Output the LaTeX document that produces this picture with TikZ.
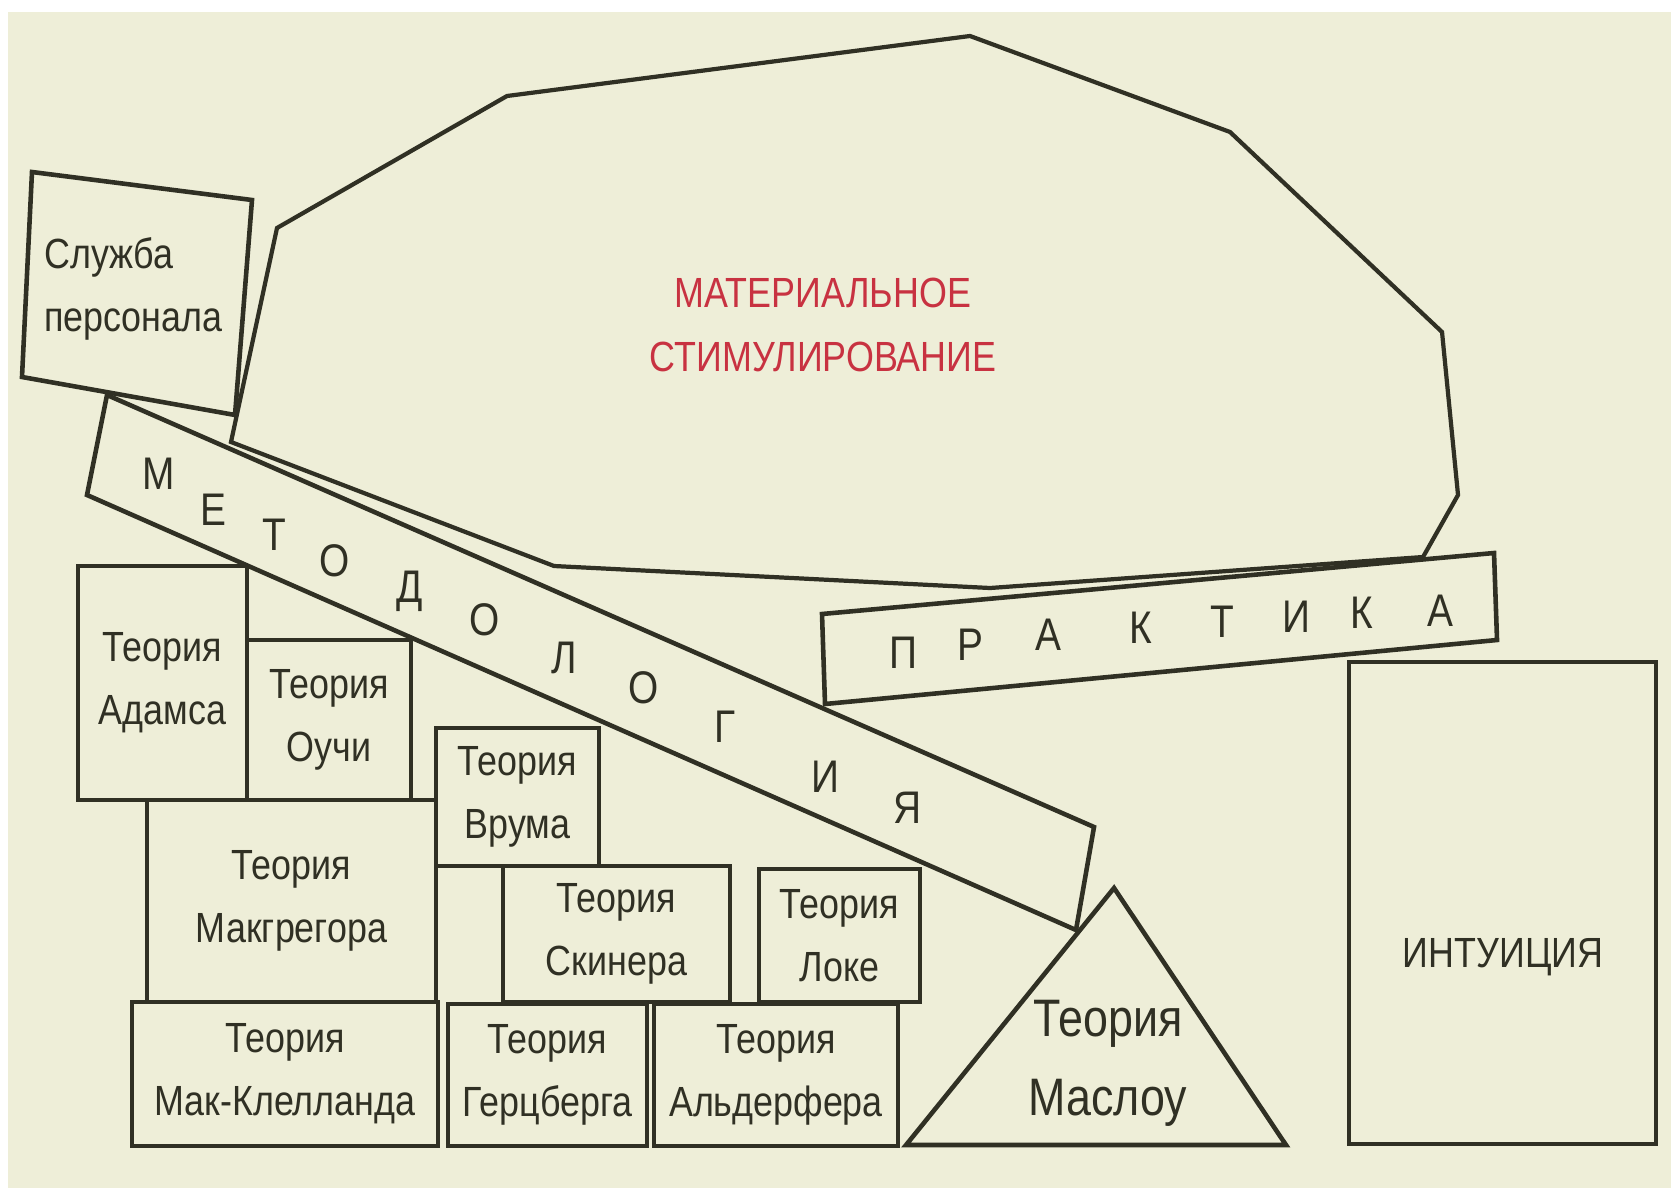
\documentclass[tikz,border=0pt]{standalone}
\usepackage{fontspec}
\setmainfont{Liberation Sans}
\newfontfamily\condfont[FakeStretch=0.85]{Liberation Sans}
\definecolor{bg}{RGB}{238,238,216}
\definecolor{ink}{RGB}{48,48,36}
\definecolor{matred}{RGB}{200,50,65}
\begin{document}
\begin{tikzpicture}[x=0.01cm, y=-0.01cm, color=ink, line width=1.3pt,
    box/.style={draw=ink, inner sep=0pt, outer sep=0pt, align=center,
      font=\condfont\fontsize{12}{18}\selectfont},
    lbl/.style={inner sep=0pt, align=center, font=\condfont\fontsize{12}{18}\selectfont},
    bartext/.style={inner sep=0pt, font=\condfont\fontsize{13}{15}\selectfont}]
    \useasboundingbox (0,0) rectangle (1671,1188);
    \fill[white] (0,0) rectangle (1671,1188);
    \fill[bg] (8,12) rectangle (1671,1188);

    \draw[line width=1.2pt] (231,442) -- (277,228) -- (507,96) -- (970,36) -- (1230,132)
      -- (1442,332) -- (1458,495) -- (1423,557) -- (990,588) -- (554,566) -- cycle;
    \node[lbl, text=matred] (stim) at (823,325) {МАТЕРИАЛЬНОЕ\\СТИМУЛИРОВАНИЕ};

    \draw (32,172) -- (252,200) -- (235,415) -- (22,377) -- cycle;
    \node[lbl, align=left, anchor=west] (hr) at (42,289) {Служба\\персонала};

    \draw (107,395) -- (1094,827) -- (1076,930) -- (87,495) -- cycle;
    \foreach \c/\x/\y [count=\i] in {М/159/474, Е/213/510, Т/274/535, О/335/561, Д/410/591,
        О/485/620, Л/564/658, О/644/688, Г/725/727, И/825/777, Я/908/808}
      \node[bartext] (met\i) at (\x,\y) {\c};

    \draw (822,614) -- (1494,553) -- (1497,640) -- (825,704) -- cycle;
    \foreach \c/\x/\y [count=\i] in {П/903/653, Р/970/645, А/1048/635, К/1141/628,
        Т/1222/622, И/1296/617, К/1362/613, А/1440/611}
      \node[bartext] (pr\i) at (\x,\y) {\c};

    \node[box, minimum width=1.69cm, minimum height=2.34cm] (adams) at (162.5,683) {Теория\\Адамса};
    \node[box, minimum width=1.64cm, minimum height=1.60cm] (ouchi) at (329,720) {Теория\\Оучи};
    \node[box, minimum width=1.63cm, minimum height=1.38cm] (vroom) at (517.5,797) {Теория\\Врума};
    \node[box, minimum width=2.89cm, minimum height=2.02cm] (mcgregor) at (291.5,901) {Теория\\Макгрегора};
    \node[box, minimum width=2.27cm, minimum height=1.36cm] (skinner) at (616.5,934) {Теория\\Скинера};
    \node[box, minimum width=1.61cm, minimum height=1.33cm] (locke) at (839.5,935.5) {Теория\\Локе};
    \node[box, minimum width=3.06cm, minimum height=1.44cm] (mcclelland) at (285,1074) {Теория\\Мак-Клелланда};
    \node[box, minimum width=1.99cm, minimum height=1.42cm] (herzberg) at (547.5,1075) {Теория\\Герцберга};
    \node[box, minimum width=2.44cm, minimum height=1.42cm] (alderfer) at (776,1075) {Теория\\Альдерфера};

    \draw (906,1145) -- (1114,888) -- (1286,1145) -- cycle;
    \node[lbl, font=\condfont\fontsize{15}{22.5}\selectfont] (maslow) at (1108,1063) {Теория\\Маслоу};

    \node[box, minimum width=3.07cm, minimum height=4.82cm] (intu) at (1502.5,903) {};
    \node[lbl] (intutext) at (1503,957) {ИНТУИЦИЯ};
  \end{tikzpicture}
\end{document}
